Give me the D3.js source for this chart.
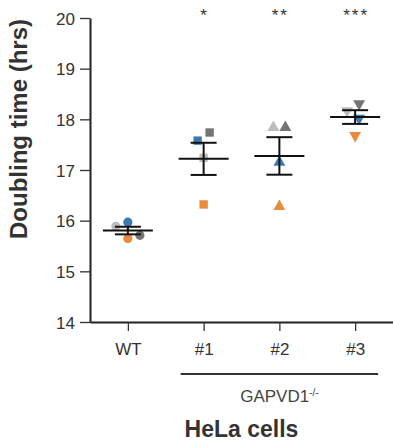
<!DOCTYPE html>
<html>
<head>
<meta charset="utf-8">
<script src="https://cdn.jsdelivr.net/npm/d3@7"></script>
<style>
  body { margin: 0; background: #fff; }
  svg { display: block; font-family: Arial, "Liberation Sans", sans-serif; }
</style>
</head>
<body>
<div id="chart"></div>
<script>
var svgWidth = 393;
var svgHeight = 442;

var margin = { top: 18, right: 0, bottom: 120, left: 90 };

// Cell lines on the x axis
var groups = ["WT", "#1", "#2", "#3"];

// One value per biological replicate (colour) per cell line
var blueVals   = [15.97, 17.58, 17.15, 18.02];
var orangeVals = [15.65, 16.32, 16.28, 17.68];
var lightVals  = [15.89, 17.24, 17.84, 18.17];
var darkVals   = [15.71, 17.74, 17.84, 18.31];

var stars = ["", "*", "**", "***"];
var yTicks = [14, 15, 16, 17, 18, 19, 20];

var series = [
  { values: blueVals,   color: "#3d78b3" },
  { values: orangeVals, color: "#e98a3c" },
  { values: lightVals,  color: "#bdbdbd" },
  { values: darkVals,   color: "#747474" }
];

var width = svgWidth - margin.left - margin.right;
var height = svgHeight - margin.top - margin.bottom;

var svg = d3.select("#chart")
  .append("svg")
  .attr("width", svgWidth)
  .attr("height", svgHeight);

var chartGroup = svg.append("g")
  .attr("transform", `translate(${margin.left}, ${margin.top})`);

var x = d3.scalePoint()
  .domain(groups)
  .range([0, width])
  .padding(0.5);

var y = d3.scaleLinear()
  .domain([14, 20])
  .range([height, 0]);

// Axes
var leftAxis = d3.axisLeft(y).tickValues(yTicks).tickFormat(d3.format("d"))
  .tickSize(10).tickSizeOuter(0).tickPadding(5);
var bottomAxis = d3.axisBottom(x).tickSize(9).tickSizeOuter(0).tickPadding(12);

var yAxisG = chartGroup.append("g").call(leftAxis);
var xAxisG = chartGroup.append("g")
  .attr("transform", `translate(0, ${height})`)
  .call(bottomAxis);

[yAxisG, xAxisG].forEach(function(g) {
  g.select(".domain").attr("stroke", "#222").attr("stroke-width", 2);
  g.selectAll(".tick line").attr("stroke", "#333").attr("stroke-width", 1.3);
  g.selectAll(".tick text").attr("font-size", "17px").attr("fill", "#333");
});
yAxisG.selectAll(".tick text").attr("dy", "0.36em");

// Symbol per cell line
var symbolTypes = [d3.symbolCircle, d3.symbolSquare, d3.symbolTriangle, d3.symbolTriangle];
var symbolSizes = [66, 70, 62, 62];
var markerSize = 9;

// Build points and dodge overlapping ones sideways
// (even replicates try the left side first, odd ones the right)
var points = [];
groups.forEach(function(g, gi) {
  var placed = [];
  series.forEach(function(s, si) {
    var py = y(s.values[gi]);
    var side = si % 2 === 0 ? -1 : 1;
    var offsets = [0, 12 * side, -12 * side, 24 * side, -24 * side];
    var dx = 0;
    for (var k = 0; k < offsets.length; k++) {
      var ok = placed.every(function(p) {
        var ddx = p.dx - offsets[k], ddy = p.py - py;
        return Math.sqrt(ddx * ddx + ddy * ddy) >= markerSize + 1;
      });
      if (ok) { dx = offsets[k]; break; }
    }
    placed.push({ group: g, gi: gi, si: si, value: s.values[gi], py: py, dx: dx, color: s.color });
  });
  // centre each cluster of vertically overlapping points
  var sorted = placed.slice().sort(function(a, b) { return a.py - b.py; });
  var clusters = [[sorted[0]]];
  for (var i = 1; i < sorted.length; i++) {
    var last = clusters[clusters.length - 1];
    if (sorted[i].py - last[last.length - 1].py < markerSize + 1) last.push(sorted[i]);
    else clusters.push([sorted[i]]);
  }
  clusters.forEach(function(c) {
    var m = d3.mean(c, d => d.dx);
    c.forEach(function(d) { d.dx -= m; });
  });
  points = points.concat(placed);
});

chartGroup.selectAll(".pt")
  .data(points)
  .enter()
  .append("path")
  .attr("class", "pt")
  .attr("d", d => d3.symbol().type(symbolTypes[d.gi]).size(symbolSizes[d.gi])())
  .attr("transform", function(d) {
    var rot = d.gi === 3 ? " rotate(180)" : "";
    return `translate(${x(d.group) + d.dx}, ${d.py})${rot}`;
  })
  .attr("fill", d => d.color);

// Mean and SEM
var stats = groups.map(function(g, gi) {
  var vals = series.map(s => s.values[gi]);
  var mean = d3.mean(vals);
  var sem = d3.deviation(vals) / Math.sqrt(vals.length);
  return { group: g, mean: mean, sem: sem };
});

var statG = chartGroup.selectAll(".stat")
  .data(stats)
  .enter()
  .append("g")
  .attr("class", "stat")
  .attr("stroke", "#111")
  .attr("stroke-width", 2);

statG.append("line")
  .attr("x1", d => x(d.group) - 25)
  .attr("x2", d => x(d.group) + 25)
  .attr("y1", d => y(d.mean))
  .attr("y2", d => y(d.mean));

statG.append("line")
  .attr("x1", d => x(d.group))
  .attr("x2", d => x(d.group))
  .attr("y1", d => y(d.mean + d.sem))
  .attr("y2", d => y(d.mean - d.sem));

statG.selectAll(".cap")
  .data(d => [d.mean + d.sem, d.mean - d.sem].map(v => ({ group: d.group, v: v })))
  .enter()
  .append("line")
  .attr("class", "cap")
  .attr("x1", d => x(d.group) - 13)
  .attr("x2", d => x(d.group) + 13)
  .attr("y1", d => y(d.v))
  .attr("y2", d => y(d.v));

// Significance stars
chartGroup.selectAll(".star")
  .data(groups)
  .enter()
  .append("text")
  .attr("class", "star")
  .attr("x", (d, i) => x(d) + 1)
  .attr("y", 3)
  .attr("text-anchor", "middle")
  .attr("font-size", "17px")
  .attr("letter-spacing", "2px")
  .attr("fill", "#333")
  .text((d, i) => stars[i]);

// Y axis label
svg.append("text")
  .attr("transform", "translate(27, 129) rotate(-90)")
  .attr("text-anchor", "middle")
  .attr("font-size", "24px")
  .attr("font-weight", "bold")
  .attr("fill", "#333")
  .text("Doubling time (hrs)");

// GAPVD1-/- bracket
chartGroup.append("line")
  .attr("x1", x("#1") - 23)
  .attr("x2", x("#3") + 23)
  .attr("y1", height + 52)
  .attr("y2", height + 52)
  .attr("stroke", "#333")
  .attr("stroke-width", 2.2);

var gapText = chartGroup.append("text")
  .attr("x", x("#2"))
  .attr("y", height + 80)
  .attr("text-anchor", "middle")
  .attr("font-size", "17px")
  .attr("fill", "#444");
gapText.append("tspan").text("GAPVD1");
gapText.append("tspan")
  .attr("font-size", "10px")
  .attr("dy", "-6")
  .text("-/-");

// HeLa cells
svg.append("text")
  .attr("x", margin.left + width / 2)
  .attr("y", 437)
  .attr("text-anchor", "middle")
  .attr("font-size", "23px")
  .attr("font-weight", "bold")
  .attr("fill", "#333")
  .text("HeLa cells");
</script>
</body>
</html>
